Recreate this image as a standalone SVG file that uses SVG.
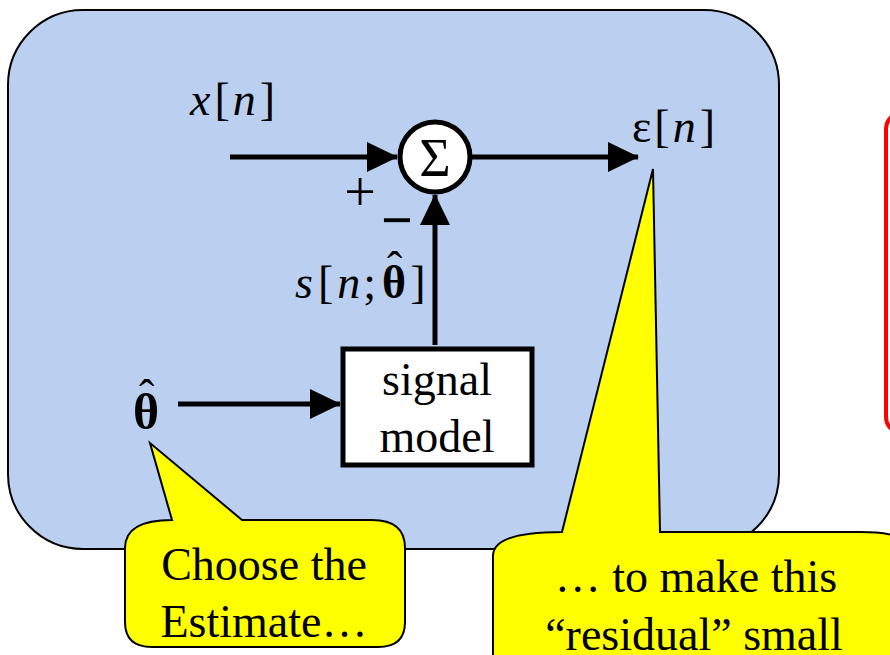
<svg xmlns="http://www.w3.org/2000/svg" width="890" height="655" viewBox="0 0 890 655">
<defs>
<style>
text{font-family:'Liberation Serif','DejaVu Serif','Times New Roman',serif;font-size:46px;fill:#000}
.i{font-style:italic}
.b{font-weight:bold}
.ln{stroke:#000;stroke-width:5;fill:none}
.bub{fill:#FFFF00;stroke:#000;stroke-width:2}
</style>
<marker id="ah" markerUnits="userSpaceOnUse" markerWidth="31" markerHeight="30" refX="30" refY="15" orient="auto">
<path d="M0,0 L31,15 L0,30 Z" fill="#000"/>
</marker>
</defs>
<rect width="890" height="655" fill="#fff"/>
<g id="panel">
<rect x="8" y="10" width="771" height="539" rx="75" ry="75" fill="#BBD0F0" stroke="#000" stroke-width="2"/>
</g>
<g id="redbox">
<rect x="886" y="113" width="40" height="320" rx="16" ry="16" fill="#fff" stroke="#FF0000" stroke-width="4"/>
</g>
<g id="connectors">
<line class="ln" x1="230" y1="157" x2="397" y2="157" marker-end="url(#ah)"/>
<line class="ln" x1="472" y1="157" x2="638" y2="157" marker-end="url(#ah)"/>
<line class="ln" x1="435" y1="345" x2="435" y2="195" marker-end="url(#ah)"/>
<line class="ln" x1="178" y1="404" x2="340" y2="404" marker-end="url(#ah)"/>
</g>
<g id="sum">
<circle cx="435" cy="157" r="35" fill="#fff" stroke="#000" stroke-width="5"/>
<text x="435" y="176" text-anchor="middle" style="font-size:54px">Σ</text>
</g>
<g id="signal-model">
<rect x="343" y="349" width="189" height="116" fill="#fff" stroke="#000" stroke-width="5"/>
<text x="437" y="395" text-anchor="middle">signal</text>
<text x="437" y="452" text-anchor="middle">model</text>
</g>
<g id="labels">
<text x="190" y="115"><tspan class="i">x</tspan><tspan dx="4">[</tspan><tspan class="i" dx="3">n</tspan><tspan dx="4">]</tspan></text>
<text x="632" y="142">ε<tspan dx="3">[</tspan><tspan class="i" dx="3">n</tspan><tspan dx="4">]</tspan></text>
<text x="295" y="298"><tspan class="i">s</tspan><tspan dx="5">[</tspan><tspan class="i" dx="4">n</tspan><tspan dx="3">;</tspan><tspan class="b" dx="6">θ</tspan><tspan dx="-19" dy="-14">ˆ</tspan><tspan dx="8" dy="14">]</tspan></text>
<text class="b" x="133" y="429" style="font-size:50px">θ<tspan class="b" dx="-20" dy="-17" style="font-size:46px;font-weight:normal">ˆ</tspan></text>
<text x="360" y="211" text-anchor="middle" style="font-size:56px">+</text>
<text x="397" y="239" text-anchor="middle" style="font-size:56px;font-weight:bold">−</text>
</g>
<g id="callout-estimate">
<path class="bub" d="M172,520 L150,443 L242,520 L372,520 Q405,520 405,548 L405,622 Q405,647 378,647 L152,647 Q125,647 125,622 L125,548 Q125,520 172,520 Z"/>
<text x="264" y="580" text-anchor="middle">Choose the</text>
<text x="264" y="637" text-anchor="middle">Estimate…</text>
</g>
<g id="callout-residual">
<path class="bub" d="M562,532 L653,169 L660,532 L860,532 Q920,532 920,560 L920,670 L493,670 L493,556 Q493,532 562,532 Z"/>
<text x="696" y="592" text-anchor="middle">… to make this</text>
<text x="694" y="650" text-anchor="middle">“residual” small</text>
</g>
</svg>
